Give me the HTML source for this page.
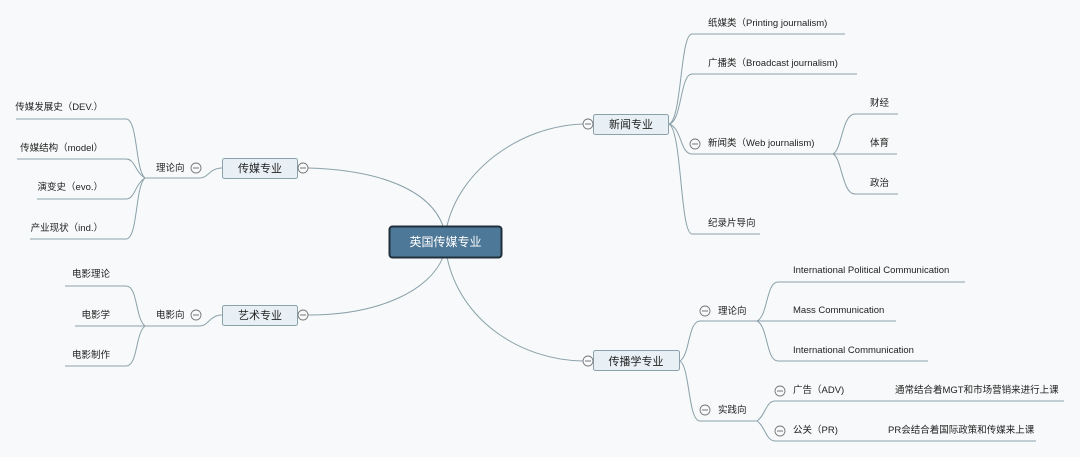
<!DOCTYPE html>
<html><head><meta charset="utf-8"><style>
html,body{margin:0;padding:0;background:#f8f9fa;}
svg{display:block;}
text{font-family:"Liberation Sans","Noto Sans CJK SC",sans-serif;font-size:9.5px;fill:#222;}
.b{font-size:11px;}
</style></head><body>
<svg width="1080" height="457" viewBox="0 0 1080 457" xmlns="http://www.w3.org/2000/svg">
<rect width="1080" height="457" fill="#f8f9fa"/>
<g fill="none" stroke="#8aa1aa" stroke-width="1">
<!-- center connections -->
<path d="M443 226 C430 190 380 170 308 168"/>
<path d="M443 257 C430 290 380 315 308 315"/>
<path d="M447 226 C460 170 520 126 583 124"/>
<path d="M447 257 C460 320 520 360 583 361"/>
<!-- left top -->
<path d="M222 168 C210 168 208 178 200 178 L145 178"/>
<path d="M145 178 C135 170 138 119 126 119 L16 119"/>
<path d="M145 178 C135 172 135 159 126 159 L17 159"/>
<path d="M145 178 C135 184 135 199 126 199 L37 199"/>
<path d="M145 178 C135 186 138 239 126 239 L30 239"/>
<!-- left bottom -->
<path d="M222 315 C210 315 208 326 200 326 L145 326"/>
<path d="M145 326 C135 318 138 286 126 286 L65 286"/>
<path d="M145 326 L75 326"/>
<path d="M145 326 C135 334 138 366 126 366 L65 366"/>
<!-- news -->
<path d="M669 124 C682 120 680 34 692 34 L845 34"/>
<path d="M669 124 C682 122 680 74 692 74 L857 74"/>
<path d="M669 124 C682 128 680 154 692 154 L833 154"/>
<path d="M669 124 C682 130 680 234 692 234 L760 234"/>
<path d="M833 154 C842 150 842 114 855 114 L898 114"/>
<path d="M833 154 L897 154"/>
<path d="M833 154 C842 158 842 194 855 194 L898 194"/>
<!-- comm -->
<path d="M680 361 C690 355 688 321 700 321 L757 321"/>
<path d="M680 361 C690 367 688 421 700 421 L757 421"/>
<path d="M757 321 C768 316 766 282 778 282 L965 282"/>
<path d="M757 321 L896 321"/>
<path d="M757 321 C768 326 766 361 778 361 L928 361"/>
<path d="M757 421 C765 416 766 401 775 401 L1064 401"/>
<path d="M757 421 C765 426 766 441 775 441 L1036 441"/>
</g>
<!-- center node -->
<rect x="389.5" y="226.5" width="112" height="31" rx="3" fill="#4e7898" stroke="#1f2f3c" stroke-width="2"/>
<text x="445.5" y="246" text-anchor="middle" class="b" style="fill:#fff;font-size:12px">英国传媒专业</text>
<!-- boxes -->
<g fill="#e8f0f5" stroke="#8aa1aa">
<rect x="222.5" y="158.5" width="75" height="20" rx="2"/>
<rect x="222.5" y="305.5" width="75" height="20" rx="2"/>
<rect x="593.5" y="114.5" width="75" height="20" rx="2"/>
<rect x="593.5" y="350.5" width="86" height="20" rx="2"/>
</g>
<text x="260" y="172" text-anchor="middle" class="b">传媒专业</text>
<text x="260" y="319" text-anchor="middle" class="b">艺术专业</text>
<text x="631" y="128" text-anchor="middle" class="b">新闻专业</text>
<text x="636" y="365" text-anchor="middle" class="b">传播学专业</text>
<!-- collapse circles -->
<g fill="#f8f9fa" stroke="#777" stroke-width="0.9">
<circle cx="303" cy="168" r="5"/><circle cx="196" cy="168" r="5"/>
<circle cx="303" cy="315" r="5"/><circle cx="196" cy="315" r="5"/>
<circle cx="588" cy="124" r="5"/><circle cx="695" cy="144" r="5"/>
<circle cx="588" cy="361" r="5"/><circle cx="705" cy="311" r="5"/>
<circle cx="705" cy="410" r="5"/><circle cx="780" cy="391" r="5"/>
<circle cx="780" cy="431" r="5"/>
</g>
<g stroke="#777" stroke-width="0.9">
<path d="M300 168h6M193 168h6M300 315h6M193 315h6M585 124h6M692 144h6M585 361h6M702 311h6M702 410h6M777 391h6M777 431h6"/>
</g>
<!-- left labels -->
<text x="156" y="171">理论向</text>
<text x="156" y="318">电影向</text>
<text x="103" y="110" text-anchor="end">传媒发展史（DEV.）</text>
<text x="103" y="151" text-anchor="end">传媒结构（model）</text>
<text x="103" y="190" text-anchor="end">演变史（evo.）</text>
<text x="103" y="231" text-anchor="end">产业现状（ind.）</text>
<text x="110" y="277" text-anchor="end">电影理论</text>
<text x="110" y="318" text-anchor="end">电影学</text>
<text x="110" y="358" text-anchor="end">电影制作</text>
<!-- news labels -->
<text x="708" y="26">纸媒类（Printing journalism)</text>
<text x="708" y="66">广播类（Broadcast journalism)</text>
<text x="708" y="146">新闻类（Web journalism)</text>
<text x="708" y="226">纪录片导向</text>
<text x="870" y="106">财经</text>
<text x="870" y="146">体育</text>
<text x="870" y="186">政治</text>
<!-- comm labels -->
<text x="718" y="314">理论向</text>
<text x="718" y="413">实践向</text>
<text x="793" y="273">International Political Communication</text>
<text x="793" y="313">Mass Communication</text>
<text x="793" y="353">International Communication</text>
<text x="793" y="393">广告（ADV)</text>
<text x="793" y="433">公关（PR)</text>
<text x="895" y="393">通常结合着MGT和市场营销来进行上课</text>
<text x="888" y="433">PR会结合着国际政策和传媒来上课</text>
</svg>
</body></html>
